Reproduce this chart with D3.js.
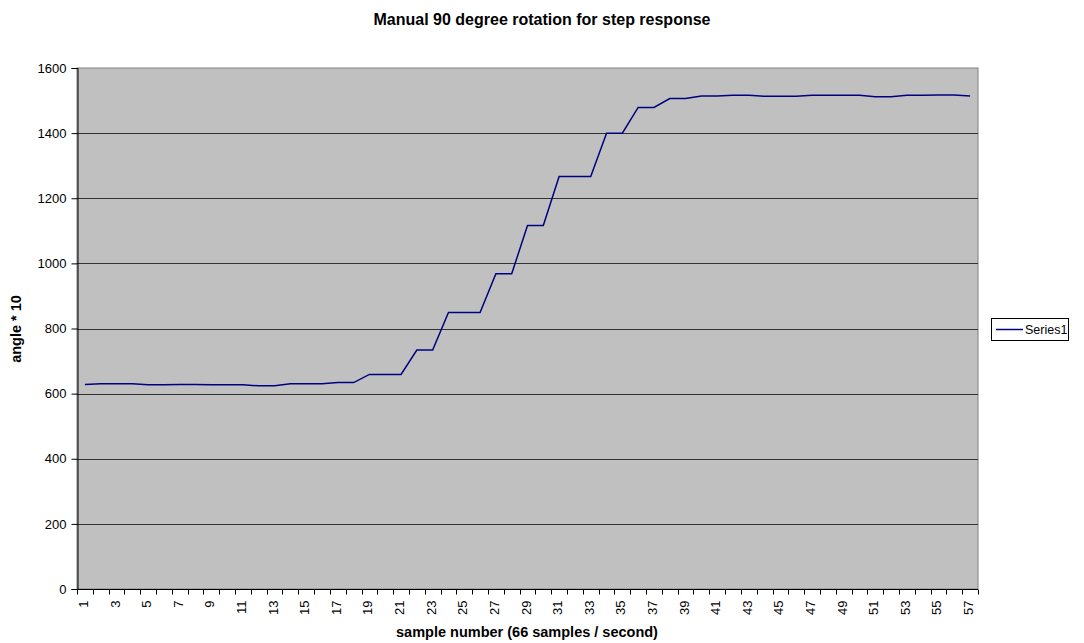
<!DOCTYPE html>
<html><head><meta charset="utf-8">
<script src="https://cdn.jsdelivr.net/npm/d3@7"></script>
<style>body{margin:0;background:#fff;} text{font-family:"Liberation Sans",Arial,sans-serif;}</style>
</head><body>
<svg id="c" width="1084" height="643"></svg>
<script>
const title = "Manual 90 degree rotation for step response";
const xTitle = "sample number (66 samples / second)";
const yTitle = "angle * 10";
const seriesName = "Series1";
const samples = d3.range(1, 58);
const values = [628,630,630,630,627,627,628,628,627,627,627,624,624,630,630,630,634,634,659,659,659,734,734,849,849,849,968,968,1116,1116,1267,1267,1267,1400,1400,1479,1479,1506,1506,1514,1514,1516,1516,1513,1513,1513,1516,1516,1516,1516,1512,1512,1516,1516,1517,1517,1514];
const yTicks = [0,200,400,600,800,1000,1200,1400,1600];

const svg = d3.select("#c");
const L = 77, R = 978, T = 68, B = 589;
const x = d3.scaleBand().domain(samples).range([L, R]);
const y = d3.scaleLinear().domain([0, 1600]).range([B, T]);

svg.append("rect").attr("x", L).attr("y", T).attr("width", R - L).attr("height", B - T)
  .attr("fill", "#c0c0c0").attr("stroke", "#808080").attr("stroke-width", 1);

svg.append("g").selectAll("line").data(yTicks.filter(d => d > 0 && d < 1600)).join("line")
  .attr("x1", L).attr("x2", R).attr("y1", d => Math.round(y(d)) + 0.5).attr("y2", d => Math.round(y(d)) + 0.5)
  .attr("stroke", "#333").attr("stroke-width", 1);

// y axis
const ya = svg.append("g").attr("transform", `translate(${L + 0.5},0)`)
  .call(d3.axisLeft(y).tickValues(yTicks).tickSize(6).tickPadding(5).tickFormat(d3.format("d")));
ya.select(".domain").attr("stroke", "#000");
ya.selectAll(".tick line").attr("stroke", "#000");
ya.selectAll("text").attr("font-size", 13).attr("fill", "#000").attr("font-family", "Liberation Sans, Arial, sans-serif");

// x axis
const xa = svg.append("g").attr("transform", `translate(0,${B + 0.5})`);
xa.append("line").attr("x1", L).attr("x2", R).attr("stroke", "#000");
const edges = samples.map(s => x(s)).concat([R]);
xa.selectAll("line.t").data(edges).join("line").attr("class", "t")
  .attr("x1", d => Math.round(d) + 0.5).attr("x2", d => Math.round(d) + 0.5).attr("y1", 0).attr("y2", 5).attr("stroke", "#000");
xa.selectAll("text").data(samples.filter(s => s % 2 === 1)).join("text")
  .attr("transform", d => `translate(${x(d) + x.bandwidth() / 2 + 3},11) rotate(-90)`)
  .attr("text-anchor", "end").attr("font-size", 13).text(d => d);

// line
svg.append("path").datum(values)
  .attr("fill", "none").attr("stroke", "#000080").attr("stroke-width", 1.5)
  .attr("d", d3.line().x((d, i) => x(samples[i]) + x.bandwidth() / 2).y(d => y(d)));

// titles
svg.append("text").attr("x", 542).attr("y", 25).attr("text-anchor", "middle")
  .attr("font-size", 16).attr("font-weight", "bold").text(title);
svg.append("text").attr("x", 527).attr("y", 637).attr("text-anchor", "middle")
  .attr("font-size", 14.5).attr("font-weight", "bold").text(xTitle);
svg.append("text").attr("transform", "translate(21,329) rotate(-90)").attr("text-anchor", "middle")
  .attr("font-size", 14.5).attr("font-weight", "bold").text(yTitle);

// legend
const lg = svg.append("g");
lg.append("rect").attr("x", 991.5).attr("y", 318.5).attr("width", 77).attr("height", 22)
  .attr("fill", "#fff").attr("stroke", "#000");
lg.append("line").attr("x1", 996).attr("x2", 1023).attr("y1", 329.5).attr("y2", 329.5)
  .attr("stroke", "#000080").attr("stroke-width", 1.5);
lg.append("text").attr("x", 1025).attr("y", 334).attr("font-size", 12.5).text(seriesName);
</script>
</body></html>
